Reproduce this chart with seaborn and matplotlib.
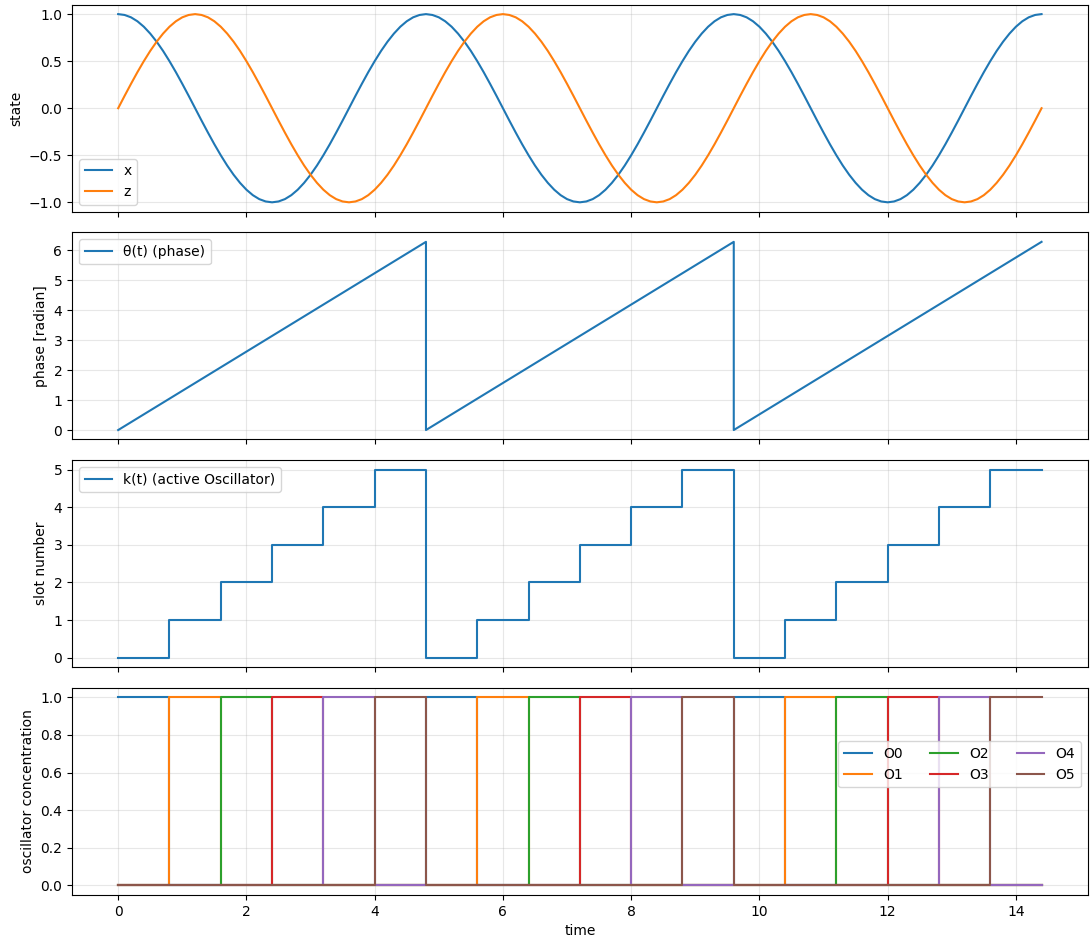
import numpy as np
import pandas as pd
import matplotlib
matplotlib.use("Agg")
import matplotlib.pyplot as plt
import seaborn as sns

# one period of the state trajectory (period 4.8), sampled every 0.1 time units;
# the picture shows three identical periods from 0 to 14.4
x_period = [
    1.0, 0.991, 0.966, 0.924, 0.866, 0.793, 0.707, 0.609, 0.5, 0.383, 0.259, 0.131,
    0.0, -0.131, -0.259, -0.383, -0.5, -0.609, -0.707, -0.793, -0.866, -0.924, -0.966, -0.991,
    -1.0, -0.991, -0.966, -0.924, -0.866, -0.793, -0.707, -0.609, -0.5, -0.383, -0.259, -0.131,
    0.0, 0.131, 0.259, 0.383, 0.5, 0.609, 0.707, 0.793, 0.866, 0.924, 0.966, 0.991,
]
z_period = [
    0.0, 0.131, 0.259, 0.383, 0.5, 0.609, 0.707, 0.793, 0.866, 0.924, 0.966, 0.991,
    1.0, 0.991, 0.966, 0.924, 0.866, 0.793, 0.707, 0.609, 0.5, 0.383, 0.259, 0.131,
    0.0, -0.131, -0.259, -0.383, -0.5, -0.609, -0.707, -0.793, -0.866, -0.924, -0.966, -0.991,
    -1.0, -0.991, -0.966, -0.924, -0.866, -0.793, -0.707, -0.609, -0.5, -0.383, -0.259, -0.131,
]
x_state = x_period * 3 + [1.0]
z_state = z_period * 3 + [0.0]
time = np.linspace(0, 14.4, len(x_state))

# phase sawtooth corners
phase_t = [0.0, 4.8, 4.8, 9.6, 9.6, 14.4]
phase_v = [0.0, 6.283, 0.0, 6.283, 0.0, 6.283]

# active slot switches
slot_t = [0.0, 0.8, 1.6, 2.4, 3.2, 4.0, 4.8, 5.6, 6.4, 7.2, 8.0, 8.8,
          9.6, 10.4, 11.2, 12.0, 12.8, 13.6, 14.4]
slot_k = [0, 1, 2, 3, 4, 5, 0, 1, 2, 3, 4, 5, 0, 1, 2, 3, 4, 5, 5]

osc_names = ["O0", "O1", "O2", "O3", "O4", "O5"]

df_state = pd.DataFrame({"time": time, "x": x_state, "z": z_state})
df_phase = pd.DataFrame({"time": phase_t, "phase": phase_v})
df_slot = pd.DataFrame({"time": slot_t, "k": slot_k})

rows = []
for i, name in enumerate(osc_names):
    for t, k in zip(slot_t, slot_k):
        rows.append({"time": t, "conc": 1.0 if k == i else 0.0, "osc": name})
df_osc = pd.DataFrame(rows)

fig, axes = plt.subplots(4, 1, figsize=(10.91, 9.41), dpi=100, sharex=True)
pal = sns.color_palette("tab10")

ax = axes[0]
sns.lineplot(data=df_state, x="time", y="x", ax=ax, color=pal[0], label="x")
sns.lineplot(data=df_state, x="time", y="z", ax=ax, color=pal[1], label="z")
ax.set_ylabel("state")
ax.legend(loc="lower left")

ax = axes[1]
sns.lineplot(data=df_phase, x="time", y="phase", ax=ax, color=pal[0],
             estimator=None, sort=False, label="θ(t) (phase)")
ax.set_ylabel("phase [radian]")
ax.legend(loc="upper left")

ax = axes[2]
sns.lineplot(data=df_slot, x="time", y="k", ax=ax, color=pal[0],
             estimator=None, drawstyle="steps-post", label="k(t) (active Oscillator)")
ax.set_ylabel("slot number")
ax.legend(loc="upper left")

ax = axes[3]
sns.lineplot(data=df_osc, x="time", y="conc", hue="osc", palette=pal[:6],
             estimator=None, drawstyle="steps-post", ax=ax)
ax.set_ylabel("oscillator concentration")
ax.set_xlabel("time")
h, l = ax.get_legend_handles_labels()
ax.legend(h, l, ncol=3, loc="center right", bbox_to_anchor=(1.0, 0.63))

for ax in axes:
    ax.grid(True, alpha=0.3)
for ax in axes[:3]:
    ax.set_xlabel("")

fig.subplots_adjust(left=0.066, right=0.997, top=0.995, bottom=0.049, hspace=0.1)
plt.savefig("out.png", dpi=100)
